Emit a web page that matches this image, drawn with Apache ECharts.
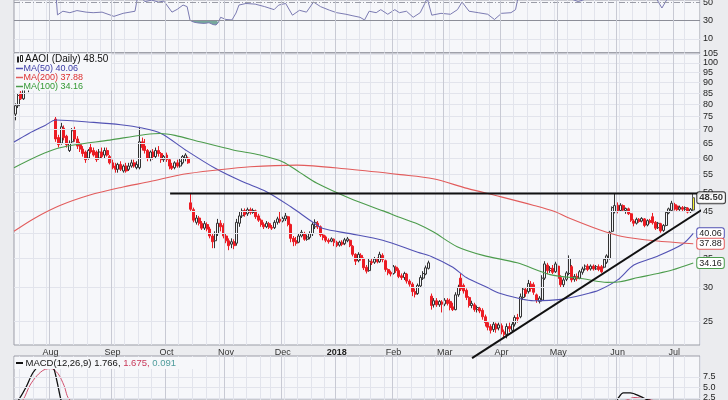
<!DOCTYPE html>
<html><head><meta charset="utf-8">
<script src="https://cdn.jsdelivr.net/npm/echarts@6/dist/echarts.min.js"></script>
<style>html,body{margin:0;padding:0;background:#ebecef;}#c{width:728px;height:400px;}</style>
</head><body><div id="c"></div>
<script>
const ticker = 'AAOI (Daily)';
const lastClose = 48.50;
// daily candles [open, close, low, high], Jul 13 2017 .. Jul 12 2018
const candles = [
[76,79.5,73.5,80.5],[79.5,84,78.5,85],[85,82.5,82,86],[82.5,87,82,88],[87.5,90,86.5,91.5],
[90,93,85.5,94],[93,96,91,97.5],[96,94,92,98],[94,97,93,98.5],[97,100,95.5,102],
[100,98,96,103],[98,99.5,95,101],[99.5,97,94,100.5],[97,98.5,94.5,100],[98.5,96,93,99.5],
[74,66.5,65.5,75],[67,64.5,63.5,68],[65,71,64.5,72.5],[70.5,67,66,71.5],[67.5,64.5,63.5,68],
[62.5,65,62,66],[65.5,69.5,65,70.5],[70,66.5,65.5,71],[66.5,64,63,67.5],[64.5,63,62,65.5],
[63,61.5,60.5,64],[62,59.5,58.5,62.5],[60,62.5,59.5,63],[63.5,62,61.5,65],[62.5,61,60.5,63.5],
[62,59.5,58.8,62.5],[60,62,59.5,63],[62,60.5,60,63.5],[61,62.5,60,63.5],[62.5,61,60.5,63.5],
[60.5,58.5,58,61],[58.5,57,56.5,59.5],[57.5,56.5,55.5,58.5],[56.5,58,55.5,58.5],[58,56.5,56,59],
[56,57.5,55.5,58],[57.5,56,55.5,58.5],[56.5,57.5,56,58.5],[57.5,58.5,57,59.5],[58.5,57.5,57,59.5],
[57,58,56.5,59],[57,65.5,56.5,71],[65.5,63.5,62.5,67],[64,62.5,61.5,66.5],[62.5,60,59,63],
[60,62,59,62.5],[62,60.5,59.5,63],[60.5,62.5,60,63.5],[62.5,61.5,60.5,64],[61.5,59.5,58.5,62],
[59.5,60.5,58.8,61],[61,59.5,58.8,61.8],[59.5,57.5,56.5,60],[57.5,56.8,56.3,58.5],[57,58.5,56.5,59],
[58.5,57.5,57,59.5],[57.5,59,57,59.8],[58.5,60.5,58,61],[60,61,59,61.6],[60,58.5,58.2,60.5],
[47.2,45.6,45.2,49.5],[45.5,43,42.5,46],[42.5,43.5,42,44.2],[43.5,42.3,41.8,44],[42.3,41.2,40.8,42.8],
[41.2,42.2,40.8,42.8],[42,41,40.5,42.5],[41,39.5,39,41.5],[39.5,38.3,37,40],[38.5,40,37,40.5],
[40,42.3,39.5,43.3],[42.3,41.5,40.5,43],[41.8,39.5,39,42.3],[39.5,38.5,38,40],[38.5,37.5,36.6,39],
[37.8,38.3,37,39],[38.3,37.5,36.8,38.8],[38,42.5,37.5,43.3],[42.3,44,41.5,45],[44,45.2,43.5,45.8],
[45.3,44.3,43.8,45.8],[44.5,45.5,44,46],[45.5,44.8,44.3,46],[44.8,45.3,44.5,45.8],[45.2,43.8,43.3,45.5],
[44,43,42.6,44.5],[43,42,41.5,43.4],[42,41.5,41,42.5],[41.5,42.3,41.2,42.8],[42.2,41.4,41,42.6],
[41.4,41.2,40.8,41.9],[41.3,42.5,41,43],[42.5,43.3,42,43.8],[43.2,42.8,42.3,45],[42.8,43.4,42.5,43.8],
[43.3,44,42.8,44.7],[43.8,42,41.6,44],[42,39,38.2,42.2],[39,38.3,37.4,39.5],[38.5,38,37.5,39.3],
[38.2,39.5,38,40],[39.5,40.3,39.2,40.8],[40,38.8,38.5,40.4],[38.8,39.3,38.5,39.8],[39.2,40,38.8,40.5],
[40,42,39.5,42.5],[41.5,42.5,41,43.2],[42.3,41.5,41,42.8],[41.5,39.7,39.3,41.8],[39.7,39.2,38.6,40],
[39.3,38.6,38.2,39.6],[38.6,38.3,37.9,39],[38.4,38.9,38.2,39.2],[38.8,38.2,37.4,39],[38.2,37.5,37.2,38.5],
[37.6,38.2,37.3,38.5],[38.2,37.8,37.4,38.6],[37.9,38.7,37.6,39.1],[38.5,38.9,38.2,39.3],[38.6,37.5,37.2,38.8],
[37.4,35.8,35.4,37.6],[35.8,34.5,33.8,36],[34.6,35.8,34.3,36.2],[35.6,35,34.6,36],[35,33.3,32.9,35.2],
[33.4,32.7,32.3,33.8],[32.8,34.5,32.6,35],[34.4,34.2,33.8,35],[34.3,34.9,34,35.3],[34.8,34.4,34.1,35.2],
[34.4,35.8,34.2,36.3],[35.6,34.8,34.3,36],[34.6,33,32.6,34.8],[33,32.4,32,33.2],[32.5,32.2,31.8,32.8],
[32.3,33.5,32.1,33.8],[33.4,32.8,32.4,33.7],[32.8,31.8,31.5,33.2],[31.9,31.6,31.2,32.3],[31.6,32.3,31.2,32.6],
[32.2,31,30.6,32.4],[31,30.5,30.1,31.3],[30.5,29.3,28.6,30.8],[29.3,28.9,28.4,29.8],[29,30.3,28.8,30.6],
[30.2,31.6,30,32],[31.5,32.3,31.2,32.7],[32.2,33.3,32,33.7],[33.2,34.2,33,34.6],[28.6,27.2,26.6,29],
[27.3,27.9,26.9,28.3],[27.9,27.3,27,28.3],[27.3,27.8,27,28],[27.7,27.4,26.2,28],[27.4,28,27.1,28.3],
[28,27.5,27.2,28.3],[27.8,26.9,26.5,28.2],[27,26.6,26.4,27.6],[26.6,28.8,26.5,29.2],[28.8,30,28.5,30.4],
[31.5,29.7,29.4,32.3],[30.3,29.4,29,30.6],[29.5,28.4,28,29.8],[28.4,27.2,26.9,28.6],[27.2,27.5,26.8,27.9],
[27.3,26.6,26.3,27.6],[26.6,26.9,26.2,27.2],[26.8,26.4,26.1,27],[26.5,25.6,25.2,26.8],[25.6,24.8,24.3,25.9],
[24.8,24.2,23.8,25],[24.3,23.8,23.4,24.6],[23.9,24.6,23.6,24.9],[24.6,24,23.5,24.8],[24.1,24.5,23.8,24.8],
[24.4,23.6,23.3,24.7],[23.6,23.3,22.8,23.9],[23.3,24.3,22.8,24.7],[24.3,24,23.6,24.8],[23.8,24.6,23.5,25],
[24.6,25.5,24.3,25.8],[25.5,25.3,24.8,26],[25.6,28.5,25.4,29],[28.4,29.7,28,30],[29.6,29,28.5,30],
[29.3,30.6,29,31.2],[30.5,29.8,29.3,31],[30.4,29.2,28.8,30.8],[28.8,28,27.6,29],[27.8,28.3,27.5,28.6],
[28,31.5,27.8,32],[31.5,34,31.2,34.5],[33.8,32.8,32.2,34.2],[32.8,33.2,32.4,33.6],[33.2,32.5,32.2,33.8],
[32.6,34,32.4,34.4],[33.6,31.5,31,33.8],[31.6,30.4,29.9,32],[30.4,31.2,30,31.6],[31.3,32.4,31,32.7],
[32.3,35,32,35.6],[33.5,31.2,30.8,33.8],[31.3,31.8,30.9,32.2],[31.8,31.4,31,32.3],[31.5,32.6,31.3,32.9],
[32.5,33.1,32.1,33.5],[33.1,33.6,32.8,33.9],[33.6,33,32.7,34],[33.1,33.6,32.8,33.9],[33.6,33.1,32.8,33.9],
[33.1,33.5,32.9,33.8],[33.5,33,32.7,33.9],[33.5,32.6,32.4,33.8],[33.4,34.8,33.2,35],[34.3,35.5,34,35.8],
[35,40.3,34.8,40.6],[40.5,46,40.3,46.3],[45,46.5,44.6,49.6],[46.6,45.2,44.6,47.3],[45.3,46.6,45,47.1],
[46.5,45.4,45,46.8],[45.3,45.8,44.5,46],[45.7,44.5,44.2,46],[44.5,43,42.6,44.7],[42.8,42.3,41.6,43.2],
[42.3,43.2,42,43.6],[43.2,42.7,42.4,43.5],[42.8,43.4,42.5,43.7],[43.3,41.8,41.4,43.5],[41.9,42.9,41.6,43.2],
[42.9,42.5,42.2,43.3],[43.8,42.4,42,44.7],[42.5,41.2,40.8,42.8],[41.3,42.3,41,42.6],[42.2,40.6,40.2,42.4],
[40.7,41.8,40.4,42.1],[41.8,44.8,41.6,45.1],[44.7,45.7,44.4,46],[45.3,47.1,45,47.7],[46.8,45.6,45.3,47.2],
[46.4,45.5,45.2,46.8],[45.6,46.1,45.2,46.5],[46,45.6,45,46.4],[45.6,46,45.2,46.3],[45.9,44.9,44.6,46.1],
[45,45.6,44.7,45.9],[45.4,48.5,45.1,49.6]
];
// moving averages: [trading-day index, value]
const ma50 = [[-0.5,65.4],[5,68.5],[11,71.5],[15,73.6],[29,72.7],[39,71.8],[47,70.5],[54,68.5],[63,62.7],[74,56.8],[84,52.9],[93,50.1],[102,46.2],[110,42.6],[114,41.1],[124,40],[136,38.6],[149,36.2],[154,35.4],[162,33.4],[167,31.6],[175,29.9],[179,29.1],[187,28.2],[192,27.9],[202,28.1],[212,29],[216,29.5],[223,31.2],[229,33.8],[237,35.3],[247,37.8],[251,40.06]];
const ma200 = [[-0.5,40.5],[7.3,43.5],[16.5,46.5],[27.6,49.2],[38.8,51.2],[49.9,52.9],[62.1,55],[74.7,56.3],[86.9,57.3],[104.3,57.8],[123.9,56.5],[142.5,54.9],[154.7,53.7],[167.3,51],[179.5,48.8],[191.7,46.6],[199.9,45],[204.3,43.7],[216.5,40.8],[224.7,39.4],[236.9,38.5],[251,37.88]];
const ma100 = [[-0.5,57],[15.4,63.2],[35,66.1],[53.6,68.5],[59.1,67.8],[68.4,65.5],[80.6,62.7],[90.6,61],[99.1,58.8],[105.4,55.5],[111.7,52.4],[124,48.3],[136.2,45.2],[142.5,43.6],[148.8,42.2],[154.7,40.4],[163.6,37.3],[173.2,35.6],[185.8,34.2],[198,32.1],[210.2,31.4],[219.1,30.8],[223.9,30.9],[230.6,31.6],[236.9,32.2],[243.2,32.9],[251,34.16]];
// hand-drawn trend lines
const resistance = [[57.3,49.6],[253.7,49.6]];
const supportLine = [[169.1,20.5],[258,47.1]];
// RSI(14)
const rsi = [[14.7,72],[15.6,36],[17.6,40],[20.2,38.4],[22.8,40.7],[26.2,39],[28.8,38.4],[32.1,39],[36.5,34.4],[39.9,37.7],[44.3,40],[45.4,58],[48,50.5],[50.5,52],[53,50],[55,51],[58,39],[59.9,42],[62.1,46.7],[63.6,45],[64.7,30],[66.2,28],[67.6,27.3],[69.9,26.7],[71.7,27.5],[73.2,25.5],[74.3,25],[75.2,28],[76,33.4],[78,31],[80.2,30.5],[81.7,38],[82.8,46.7],[85.4,48.4],[88.8,47.7],[92.3,45],[95.8,41.7],[97.5,46.7],[100.1,48.4],[102.6,35.7],[105.2,41],[107.8,39],[110.4,50],[113,45],[116.4,41],[119,38.4],[122.4,36.7],[125,35],[127.6,33.4],[129.3,30.5],[131,40],[133.6,38.4],[135.3,41.7],[137.9,36.7],[140.5,41.7],[142.2,38.4],[144.8,40],[147.3,33.4],[149.9,38.4],[151.6,48.4],[152.5,54],[154.2,35.7],[157.6,37.7],[161.1,36.7],[163.7,41.7],[165.4,50],[168,40],[171.4,38.4],[174.9,36.7],[177.4,31],[180,37.7],[183.5,38.4],[185.2,41.7],[186.2,56],[190.6,60],[196.2,58],[201.7,55],[206.1,53],[208.4,50.5],[211,53],[216.5,58],[221,70],[224,72],[231.4,62],[236.9,56],[239.4,43.5],[241.7,55],[246.2,62],[251,68]];
const rsiOversold = [[64.7,30],[66.2,28],[67.6,27.3],[69.9,26.7],[71.7,27.5],[73.2,25.5],[74.3,25],[75.2,28],[75.5,30]];
// MACD(12,26,9)
const macd = [[0,1],[1.2,2],[3.9,5],[6.5,8.5],[9.1,10.3],[11.7,10.7],[13.9,10],[15.4,6.5],[16.9,2],[18,0.5],[25,-1],[40,-2.5],[46,0],[55,-0.5],[65,-3],[80,-4],[100,-1.5],[120,-1.5],[140,-2],[155,-2.5],[175,-2.5],[190,-0.5],[200,0],[212,0.3],[219,0.8],[222.6,2],[225.1,3.7],[227.7,3.7],[231.6,2.8],[234.3,2],[240,1.5],[251,1.766]];
const macdSignal = [[0,0.5],[2.8,2],[5.4,5.5],[8,7.8],[10.6,9.2],[13.2,9.5],[15.8,8.3],[18,5.5],[20.2,2],[30,-0.5],[60,-1],[100,-2],[150,-2],[190,-1.5],[215,0.2],[226.4,2],[229,2.6],[234.2,2.2],[236.9,1.8],[251,1.675]];
const macdHistLast = 0.091;
// axis ticks
const priceTicks = [25,30,35,40,45,50,55,60,65,70,75,80,85,90,95,100,105];
const rsiTicks = [10,30,50];
const macdTicks = [2.5,5.0,7.5];
const monthStarts = [13,36,56,78,99,119,140,159,180,201,223,244];
const monthLabels = ['Aug','Sep','Oct','Nov','Dec','2018','Feb','Mar','Apr','May','Jun','Jul'];
const weekStarts = [2,7,12,17,22,27,32,37,41,46,51,56,61,66,71,76,81,86,91,95,100,105,110,115,119,123,128,132,137,142,147,152,156,161,166,171,176,180,185,190,195,200,205,210,215,220,224,229,234,239,244,248];

const FONT = 'Liberation Sans';
const PLOT_BG = '#f6f7fa';
const BORDER = '#9b9da7';
const GRIDC = '#e2e4ec';
const MONTHC = '#c8cad4';
const C50 = '#5252b4', C200 = '#e25c5c', C100 = '#4c9c4c';
const slots = candles.length + 2;
const cats = Array.from({length: slots}, (_, i) => String(i));
const X0 = -0.5, X1 = slots - 0.5;

const chart = echarts.init(document.getElementById('c'), null, {width: 728, height: 400});

function catAxis(g, labels) {
  return {
    type: 'category', gridIndex: g, data: cats, boundaryGap: true, position: 'bottom',
    axisLine: {show: false}, axisTick: {show: false},
    axisLabel: labels ? {
      show: true, interval: (i) => monthStarts.includes(i), margin: 3,
      fontSize: 9, fontFamily: FONT, color: '#333',
      formatter: (v) => { const k = monthStarts.indexOf(+v); const t = k >= 0 ? monthLabels[k] : ''; return /^\d{4}$/.test(t) ? '{b|' + t + '}' : t; },
      rich: {b: {fontWeight: 'bold', fontSize: 9, fontFamily: FONT, color: '#222'}}
    } : {show: false},
    splitLine: {show: true, interval: (i) => weekStarts.includes(i), lineStyle: {color: GRIDC, width: 1}}
  };
}
function valAxis(g) { return {type: 'value', gridIndex: g, min: X0, max: X1, show: false, position: 'top'}; }

const monthLines = monthStarts.map(i => ({xAxis: i - 0.5, lineStyle: {color: MONTHC, width: 1, type: 'solid'}, label: {show: false}}));
function hLines(ticks, fmt, styleFor) {
  return ticks.map(v => ({yAxis: v, lineStyle: styleFor(v), label: {show: true, position: 'end', distance: 3, formatter: () => fmt(v), color: '#222', fontSize: 9, fontFamily: FONT}}));
}
function helper(xi, yi, data) {
  return {type: 'line', xAxisIndex: xi, yAxisIndex: yi, data: [], z: 1, silent: true,
    markLine: {symbol: ['none', 'none'], silent: true, animation: false, data: data}};
}
const light = () => ({color: GRIDC, width: 1, type: 'solid'});

const option = {
  animation: false,
  backgroundColor: '#ebecef',
  grid: [
    {left: 14, width: 686, top: 0, height: 52.6, show: true, backgroundColor: PLOT_BG, borderColor: BORDER, borderWidth: 1},
    {left: 14, width: 686, top: 53, height: 292, show: true, backgroundColor: PLOT_BG, borderColor: BORDER, borderWidth: 1},
    {left: 14, width: 686, top: 356, height: 44.1, show: true, backgroundColor: PLOT_BG, borderColor: BORDER, borderWidth: 1}
  ],
  xAxis: [catAxis(0, false), valAxis(0), catAxis(1, true), valAxis(1), catAxis(2, false), valAxis(2)],
  yAxis: [
    {type: 'value', gridIndex: 0, min: -5, max: 52.2, show: false},
    {type: 'log', gridIndex: 1, min: 22, max: 105.5, show: false},
    {type: 'value', gridIndex: 2, min: 2, max: 12.5, show: false}
  ],
  series: [
    helper(1, 0, [
      ...hLines(rsiTicks, v => String(v), v => v === 30 ? {color: '#8c8e98', width: 1, type: 'solid'} : v === 50 ? {color: '#9a9ca6', width: 1, type: [6, 2, 1, 2]} : light()),
      ...monthLines]),
    helper(3, 1, [...hLines(priceTicks, v => String(v), light), ...monthLines]),
    helper(5, 2, [...hLines(macdTicks, v => v.toFixed(1), light), ...monthLines]),
    {
      name: 'AAOI', type: 'candlestick', xAxisIndex: 2, yAxisIndex: 1, z: 2, barWidth: 2.5,
      itemStyle: {color: PLOT_BG, color0: '#ec1c24', borderColor: '#333', borderColor0: '#ec1c24', borderWidth: 1},
      data: candles.map((c, i) => i === candles.length - 1 ? {value: c, itemStyle: {color: '#f7f330', borderColor: '#555'}} : c)
    },
    ...[[ma50, C50, 'MA(50)'], [ma200, C200, 'MA(200)'], [ma100, C100, 'MA(100)']].map(([d, col, nm]) => ({
      name: nm, type: 'line', xAxisIndex: 3, yAxisIndex: 1, z: 3, zlevel: 1, data: d, smooth: 0.3, showSymbol: false,
      lineStyle: {color: col, width: 1.1},
      endLabel: {show: true, distance: 4, formatter: p => p.value[1].toFixed(2), color: '#222', fontSize: 9, fontFamily: FONT,
        backgroundColor: '#fff', borderColor: col, borderWidth: 1, borderRadius: 2, padding: [1, 2, 0, 2]}
    })),
    {type: 'line', xAxisIndex: 3, yAxisIndex: 1, z: 4, zlevel: 1, data: resistance, showSymbol: false, clip: false, lineStyle: {color: '#111', width: 2}},
    {type: 'line', xAxisIndex: 3, yAxisIndex: 1, z: 4, zlevel: 1, data: supportLine, showSymbol: false, clip: false, lineStyle: {color: '#111', width: 2}},
    {type: 'scatter', xAxisIndex: 3, yAxisIndex: 1, z: 20, zlevel: 1, symbolSize: 0, data: [[candles.length - 1, lastClose]],
      label: {show: true, position: 'right', distance: 4, formatter: () => lastClose.toFixed(2), color: '#000', fontWeight: 'bold', fontSize: 9.5, fontFamily: FONT,
        backgroundColor: '#fff', borderColor: '#111', borderWidth: 1, borderRadius: 2, padding: [1, 2, 0, 2]}},
    {type: 'line', xAxisIndex: 1, yAxisIndex: 0, z: 2, data: rsiOversold, showSymbol: false, lineStyle: {width: 0},
      areaStyle: {origin: 30, color: '#6fa397', opacity: 0.95}},
    {type: 'line', xAxisIndex: 1, yAxisIndex: 0, z: 3, data: rsi, showSymbol: false, lineStyle: {color: '#7b7bb2', width: 1}},
    {type: 'line', xAxisIndex: 5, yAxisIndex: 2, z: 3, data: macdSignal, smooth: 0.3, showSymbol: false, lineStyle: {color: '#d0506e', width: 1}},
    {type: 'line', xAxisIndex: 5, yAxisIndex: 2, z: 4, data: macd, smooth: 0.3, showSymbol: false, lineStyle: {color: '#111', width: 1.3}}
  ],
  graphic: [
    {type: 'rect', z: 50, shape: {x: 14.5, y: 53.5, width: 97, height: 37}, style: {fill: PLOT_BG}},
    {type: 'rect', z: 51, shape: {x: 17, y: 56.5, width: 2, height: 6}, style: {fill: '#222'}},
    {type: 'rect', z: 51, shape: {x: 20.5, y: 55.5, width: 2, height: 6}, style: {fill: '#fff', stroke: '#222', lineWidth: 1}},
    {type: 'text', z: 51, x: 25, y: 59.5, style: {text: ticker + ' ' + lastClose.toFixed(2), font: '10px ' + FONT, fill: '#111', verticalAlign: 'middle', textVerticalAlign: 'middle'}},
    ...[[ma50, C50, '#3a3aa6', 'MA(50)', 68.5], [ma200, C200, '#dd3030', 'MA(200)', 77.5], [ma100, C100, '#339933', 'MA(100)', 86.5]].flatMap(([d, lc, tc, nm, y]) => [
      {type: 'line', z: 51, shape: {x1: 16, y1: y, x2: 23, y2: y}, style: {stroke: lc, lineWidth: 1.5}},
      {type: 'text', z: 51, x: 23.5, y: y, style: {text: nm + ' ' + d[d.length - 1][1].toFixed(2), font: '9px ' + FONT, fill: tc, verticalAlign: 'middle', textVerticalAlign: 'middle'}}
    ]),
    {type: 'rect', z: 50, shape: {x: 14.5, y: 357, width: 180, height: 12}, style: {fill: PLOT_BG}},
    {type: 'line', z: 51, shape: {x1: 16, y1: 363, x2: 23, y2: 363}, style: {stroke: '#111', lineWidth: 2}},
    {type: 'text', z: 51, x: 25.5, y: 363, style: {
      text: '{a|MACD(12,26,9) ' + macd[macd.length - 1][1].toFixed(3) + ', }{b|' + macdSignal[macdSignal.length - 1][1].toFixed(3) + ', }{c|' + macdHistLast.toFixed(3) + '}',
      font: '9.5px ' + FONT, verticalAlign: 'middle', textVerticalAlign: 'middle',
      rich: {a: {fill: '#111', font: '9.5px ' + FONT}, b: {fill: '#c8385a', font: '9.5px ' + FONT}, c: {fill: '#4f9c9c', font: '9.5px ' + FONT}}}}
  ]
};
chart.setOption(option);
</script></body></html>
